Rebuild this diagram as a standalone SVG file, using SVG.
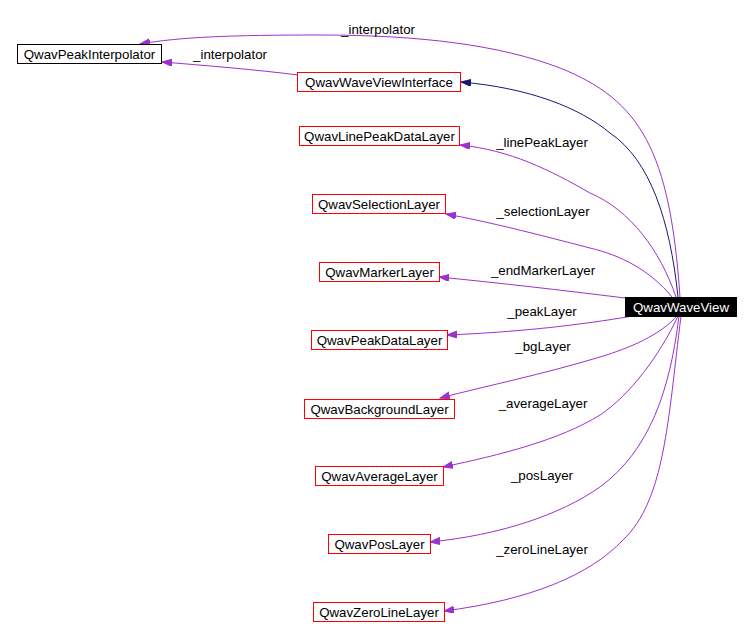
<svg xmlns="http://www.w3.org/2000/svg" width="750" height="642" viewBox="0 0 750 642">
<style>
  .n rect { fill: #ffffff; stroke: #ff0000; stroke-width: 1; }
  .n text, .lbl { font-family: "Liberation Sans", Arial, sans-serif; font-size: 13.3px; fill: #000000; }
  .n text { text-anchor: middle; }
  .lbl { text-anchor: middle; }
  .e { fill: none; stroke: #9a32cd; stroke-width: 1; marker-end: url(#ap); }
  .en { fill: none; stroke: #191970; stroke-width: 1; marker-end: url(#an); }
</style>
<defs>
  <marker id="ap" markerUnits="userSpaceOnUse" markerWidth="11" markerHeight="8" refX="10" refY="3.5" orient="auto">
    <path d="M0,0 L10,3.5 L0,7 z" fill="#9a32cd" stroke="#9a32cd" stroke-width="1"/>
  </marker>
  <marker id="an" markerUnits="userSpaceOnUse" markerWidth="11" markerHeight="8" refX="10" refY="3.5" orient="auto">
    <path d="M0,0 L10,3.5 L0,7 z" fill="#191970" stroke="#191970" stroke-width="1"/>
  </marker>
</defs>
<rect x="0" y="0" width="750" height="642" fill="#ffffff"/>
<g id="edges">
  <path class="e" d="M680,297 C670,150 640,100 560,68 C500,45 420,35 320,35 C230,35 180,37 140,44"/>
  <path class="e" d="M298,75 C260,70 200,65 162,62"/>
  <path class="en" d="M678,297 C670,220 650,160 610,133 C580,108 530,88 461,82"/>
  <path class="e" d="M676,297 C660,250 630,210 590,193 C550,170 510,150 460,145"/>
  <path class="e" d="M672,297 C650,270 620,255 590,248 C540,235 490,222 446,214"/>
  <path class="e" d="M625,298 C560,290 500,283 439,277"/>
  <path class="e" d="M633,316 C580,325 520,332 447,335"/>
  <path class="e" d="M677,316 C660,335 630,348 600,357 C540,375 490,385 440,398"/>
  <path class="e" d="M678,316 C660,355 630,395 600,415 C560,440 500,455 443,467"/>
  <path class="e" d="M679,316 C670,390 650,450 600,487 C560,515 500,535 430,542"/>
  <path class="e" d="M681,316 C668,420 665,500 623,540 C590,575 530,600 444,611"/>
  <text class="lbl" x="378" y="33.5">_interpolator</text>
  <text class="lbl" x="230" y="58.5">_interpolator</text>
  <text class="lbl" x="542" y="146.5">_linePeakLayer</text>
  <text class="lbl" x="543" y="215.5">_selectionLayer</text>
  <text class="lbl" x="543" y="274.5">_endMarkerLayer</text>
  <text class="lbl" x="542" y="315.5">_peakLayer</text>
  <text class="lbl" x="543" y="350.5">_bgLayer</text>
  <text class="lbl" x="543" y="407.5">_averageLayer</text>
  <text class="lbl" x="542" y="479.5">_posLayer</text>
  <text class="lbl" x="542" y="553.5">_zeroLineLayer</text>
</g>
<g id="QwavPeakInterpolator" class="n">
  <rect x="17.5" y="44.5" width="144" height="19" style="stroke:#000000"/>
  <text x="89.5" y="58.5">QwavPeakInterpolator</text>
</g>
<g id="QwavWaveViewInterface" class="n">
  <rect x="297.5" y="72.5" width="163" height="19"/>
  <text x="379" y="86.5">QwavWaveViewInterface</text>
</g>
<g id="QwavLinePeakDataLayer" class="n">
  <rect x="299.5" y="126.5" width="160" height="19"/>
  <text x="379.5" y="140.5">QwavLinePeakDataLayer</text>
</g>
<g id="QwavSelectionLayer" class="n">
  <rect x="312.5" y="194.5" width="133" height="19"/>
  <text x="379" y="208.5">QwavSelectionLayer</text>
</g>
<g id="QwavMarkerLayer" class="n">
  <rect x="319.5" y="262.5" width="120" height="19"/>
  <text x="379.5" y="276.5">QwavMarkerLayer</text>
</g>
<g id="QwavWaveView" class="n">
  <rect x="625.5" y="297.5" width="111" height="19" style="fill:#000000;stroke:#000000"/>
  <text x="681" y="311.5" style="fill:#ffffff">QwavWaveView</text>
</g>
<g id="QwavPeakDataLayer" class="n">
  <rect x="311.5" y="330.5" width="136" height="19"/>
  <text x="379.5" y="344.5">QwavPeakDataLayer</text>
</g>
<g id="QwavBackgroundLayer" class="n">
  <rect x="304.5" y="399.5" width="150" height="19"/>
  <text x="379.5" y="413.5">QwavBackgroundLayer</text>
</g>
<g id="QwavAverageLayer" class="n">
  <rect x="315.5" y="466.5" width="128" height="19"/>
  <text x="379.5" y="480.5">QwavAverageLayer</text>
</g>
<g id="QwavPosLayer" class="n">
  <rect x="328.5" y="534.5" width="102" height="19"/>
  <text x="379.5" y="548.5">QwavPosLayer</text>
</g>
<g id="QwavZeroLineLayer" class="n">
  <rect x="313.5" y="602.5" width="131" height="19"/>
  <text x="379" y="616.5">QwavZeroLineLayer</text>
</g>
</svg>
